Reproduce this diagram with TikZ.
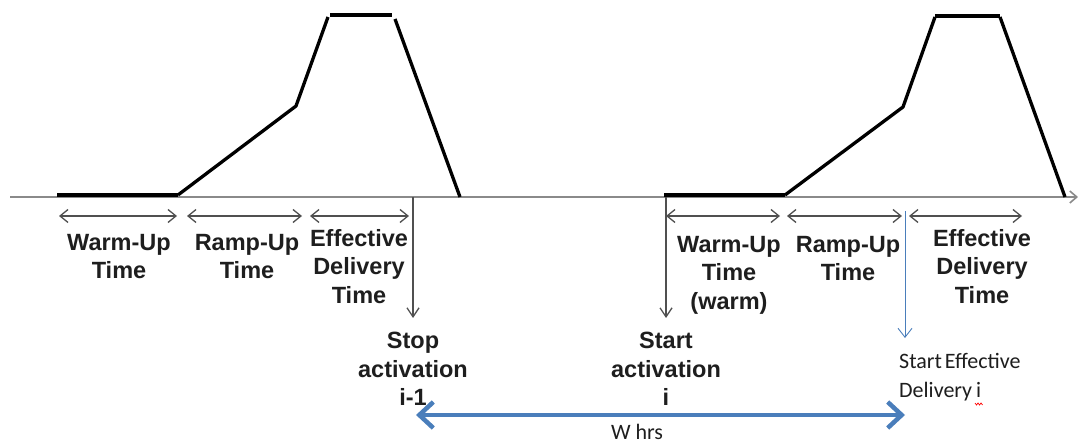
\documentclass[tikz,border=0pt]{standalone}
\usepackage{fontspec}
\setmainfont{Liberation Sans}
\newfontfamily\calib{Carlito}
\usetikzlibrary{arrows.meta}
\definecolor{axisgray}{HTML}{8A8A8A}
\definecolor{arrgray}{HTML}{505050}
\definecolor{officeblue}{HTML}{4A7EBB}
\definecolor{txt}{HTML}{1E1E1E}
\begin{document}
\begin{tikzpicture}[x=1pt,y=-1pt,
  lbl/.style={font=\bfseries\fontsize{23.5}{28.5}\selectfont, align=center, inner sep=0pt, text=txt, anchor=north},
  cal/.style={font=\calib\fontsize{22}{29}\selectfont, inner sep=0pt, text=txt},
  dimarrow/.style={draw=arrgray, line width=1.3pt, {Straight Barb[length=8pt,width=13pt]}-{Straight Barb[length=8pt,width=13pt]}},
  downarrow/.style={draw=arrgray, line width=1.3pt, -{Straight Barb[length=9pt,width=12pt]}},
  curveline/.style={draw=black, line width=3.3pt, line join=round},
  flatline/.style={draw=black, line width=4.5pt},
  axisline/.style={draw=axisgray, line width=1.6pt, -{Straight Barb[length=7pt,width=12pt]}},
  bigarrow/.style={draw=officeblue, line width=4.5pt, {Straight Barb[length=14pt,width=26pt]}-{Straight Barb[length=14pt,width=26pt]}}
]
\fill[white] (0,0) rectangle (1078,443);
\useasboundingbox (0,0) rectangle (1078,443);

% axis
\coordinate (ax0) at (10,197);
\coordinate (ax1) at (1078,197);
\draw[axisline] (ax0) -- (ax1);

% first activation profile
\draw[flatline] (57,195) -- (178,195);
\draw[curveline] (178,195) -- (296,106) -- (328,17);
\draw[draw=black, line width=4pt] (330,15.5) -- (392,15.5);
\draw[curveline] (395,19) -- (460,197);

% second activation profile
\draw[flatline] (664,195) -- (785,195);
\draw[curveline] (785,195) -- (903,107) -- (935,17);
\draw[draw=black, line width=4pt] (935,16) -- (1000,16);
\draw[curveline] (1000,17) -- (1065,197);

% dimension arrows, group 1
\coordinate (a1) at (59,216);  \coordinate (b1) at (177,216);
\coordinate (a2) at (187,216); \coordinate (b2) at (302,216);
\coordinate (a3) at (310,216); \coordinate (b3) at (409,216);
\draw[dimarrow] (a1) -- (b1);
\draw[dimarrow] (a2) -- (b2);
\draw[dimarrow] (a3) -- (b3);

% dimension arrows, group 2
\coordinate (a4) at (666,216); \coordinate (b4) at (780,216);
\coordinate (a5) at (787,216); \coordinate (b5) at (902,216);
\coordinate (a6) at (909,216); \coordinate (b6) at (1022,216);
\draw[dimarrow] (a4) -- (b4);
\draw[dimarrow] (a5) -- (b5);
\draw[dimarrow] (a6) -- (b6);

% labels under the arrows
\node[lbl] (wu1) at (119,234) {Warm-Up\\Time};
\node[lbl] (ru1) at (247,234) {Ramp-Up\\Time};
\node[lbl] (ed1) at (359,229) {Effective\\Delivery\\Time};
\node[lbl] (wu2) at (729,236) {Warm-Up\\Time\\(warm)};
\node[lbl] (ru2) at (848,236) {Ramp-Up\\Time};
\node[lbl] (ed2) at (982,229) {Effective\\Delivery\\Time};

% event labels
\node[lbl] (stop) at (413,332) {Stop\\activation\\i-1};
\node[lbl] (start) at (666,332) {Start\\activation\\i};
\node[cal, anchor=north west, align=left] (sed) at (899,353) {Start\hspace{-2pt} Effective\\Delivery\hspace{-1pt} i};
\node[cal, anchor=north] (whrs) at (637,424) {W hrs};

% event arrows
\coordinate (s0) at (413,197); \coordinate (s1) at (413,318);
\coordinate (t0) at (666,197); \coordinate (t1) at (666,318);
\coordinate (e0) at (905,211); \coordinate (e1) at (905,338);
\draw[downarrow] (s0) -- (s1);
\draw[downarrow] (t0) -- (t1);
\draw[draw=officeblue, line width=0.9pt, -{Straight Barb[length=9pt,width=14pt]}] (e0) -- (e1);

% W hrs span
\coordinate (w0) at (416,415); \coordinate (w1) at (905,415);
\draw[bigarrow] (w0) -- (w1);

% spell-check squiggle
\draw[red, line width=0.7pt] (975,403) -- (976.5,405) -- (978,403) -- (979.5,405) -- (981,403) -- (982.5,405);
\end{tikzpicture}
\end{document}
